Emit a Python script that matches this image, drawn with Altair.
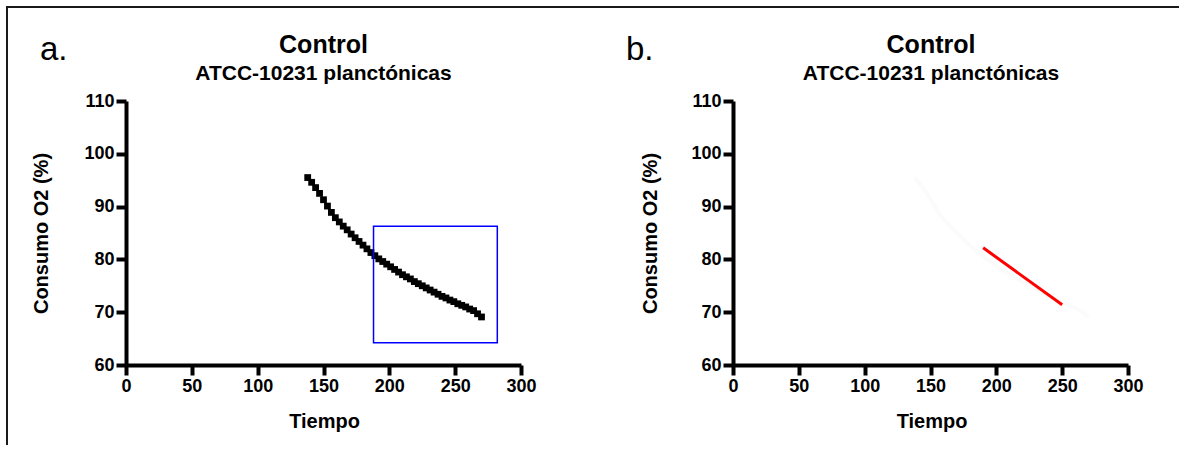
import altair as alt
import pandas as pd

# ---- data ----
time_a = [138, 141, 144, 147, 150, 153, 156, 159, 162, 165, 168, 171, 174, 177, 180,
          183, 186, 189, 192, 195, 198, 201, 204, 207, 210, 213, 216, 219, 222, 225,
          228, 231, 234, 237, 240, 243, 246, 249, 252, 255, 258, 261, 264, 267, 270]
o2_a = [95.5, 94.6, 93.6, 92.5, 91.3, 90.1, 88.9, 87.9, 87.1, 86.3, 85.6, 84.8, 84.1, 83.4, 82.7,
        82.0, 81.3, 80.7, 80.1, 79.6, 79.1, 78.6, 78.1, 77.6, 77.1, 76.7, 76.3, 75.8, 75.4, 75.0,
        74.6, 74.2, 73.8, 73.4, 73.0, 72.7, 72.3, 72.0, 71.6, 71.3, 71.0, 70.6, 70.3, 69.7, 69.1]

box_t = [188, 282]
box_o2 = [64.2, 86.3]

red_t = [190, 250]
red_o2 = [82.2, 71.4]

x_ticks = [0, 50, 100, 150, 200, 250, 300]
y_ticks = [60, 70, 80, 90, 100, 110]

panel_labels = ["a.", "b."]
title_text = "Control"
subtitle_text = "ATCC-10231 planctónicas"
x_title = "Tiempo"
y_title = "Consumo O2 (%)"

FONT = "Liberation Sans"
W, H = 395, 264

df_a = pd.DataFrame({"t": time_a, "o2": o2_a})
df_box = pd.DataFrame({"t": [box_t[0]], "t2": [box_t[1]], "o2": [box_o2[0]], "o22": [box_o2[1]]})
df_red = pd.DataFrame({"t": red_t, "o2": red_o2})
one = pd.DataFrame({"k": [0]})

xs = alt.Scale(domain=[0, 300], nice=False)
ys = alt.Scale(domain=[60, 110], nice=False)
xax = alt.Axis(values=x_ticks, title=None, grid=False)
yax = alt.Axis(values=y_ticks, title=None, grid=False)


def X(f):
    return alt.X(f, type="quantitative", scale=xs, axis=xax)


def Y(f):
    return alt.Y(f, type="quantitative", scale=ys, axis=yax)


def txt(s, x, y, size, weight="bold", angle=0, align="center", baseline="alphabetic"):
    kw = dict(font=FONT, fontSize=size, fontWeight=weight, color="black",
              align=align, baseline=baseline)
    if angle:
        kw["angle"] = angle
    return alt.Chart(pd.DataFrame({"s": [s]})).mark_text(**kw).encode(
        x=alt.value(x), y=alt.value(y), text="s:N")


def hbar(x1, x2):
    return alt.Chart(one).mark_rect(color="#1a1a1a").encode(
        x=alt.value(x1), x2=alt.value(x2), y=alt.value(-95), y2=alt.value(-93))


def decorations(label, label_x, ytitle_x, title_cx, xtitle_cx):
    return [
        txt(label, label_x, -41, 33, weight="normal", align="left"),
        txt(title_text, title_cx, -48, 25),
        txt(subtitle_text, title_cx, -21, 21),
        txt(x_title, xtitle_cx, 327, 20),
        txt(y_title, ytitle_x, 132.5, 20, angle=270, baseline="middle"),
    ]


# panel a
points_a = alt.Chart(df_a).mark_square(size=46, color="black", opacity=1).encode(x=X("t"), y=Y("o2"))
box = alt.Chart(df_box).mark_rect(fillOpacity=0, stroke="#0000ff", strokeWidth=1.5).encode(
    x=X("t"), x2="t2", y=Y("o2"), y2="o22")
frame_left = alt.Chart(one).mark_rect(color="#1a1a1a").encode(
    x=alt.value(-120), x2=alt.value(-118), y=alt.value(-95), y2=alt.value(344))

panel_a = alt.layer(
    points_a, box, frame_left, hbar(-120, 502),
    *decorations(panel_labels[0], -86, -84, 197.5, 198.5),
).properties(width=W, height=H)

# panel b
ghost = alt.Chart(df_a).mark_line(color="#fbfbfb", strokeWidth=4).encode(x=X("t"), y=Y("o2"))
red = alt.Chart(df_red).mark_line(color="#ff0000", strokeWidth=3).encode(x=X("t"), y=Y("o2"))

panel_b = alt.layer(
    ghost, red, hbar(-106, 446),
    *decorations(panel_labels[1], -107, -82.5, 198, 199),
).properties(width=W, height=H)

chart = alt.hconcat(panel_a, panel_b, spacing=212, bounds="flush").properties(
    padding={"left": 6, "top": 6, "right": 0, "bottom": 0},
    background="white",
).configure_view(stroke=None).configure_axis(
    domainColor="black", domainWidth=4, tickColor="black", tickWidth=4, tickSize=10,
    labelFont=FONT, labelFontSize=18, labelFontWeight="bold", labelColor="black",
    labelPadding=2, labelFlush=False, labelOverlap=False,
)

chart.save("out.html", embed_options={"renderer": "svg", "actions": False})
